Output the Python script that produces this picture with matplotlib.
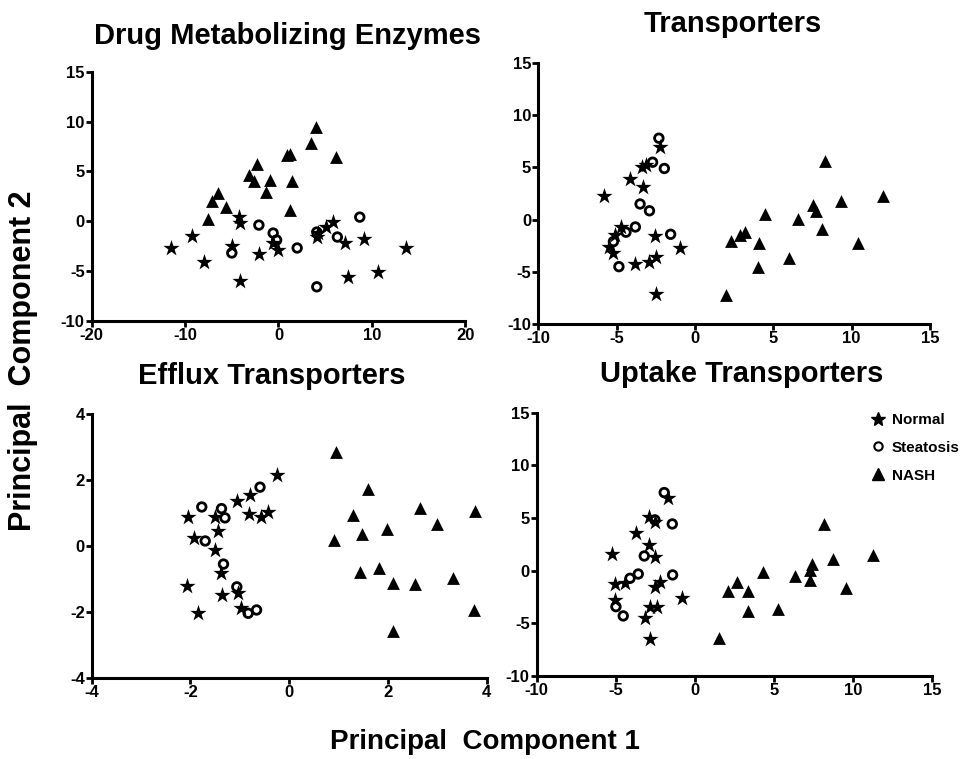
import matplotlib
matplotlib.use("Agg")
import matplotlib.pyplot as plt
from matplotlib.lines import Line2D

plt.rcParams['font.family'] = ['Liberation Sans', 'DejaVu Sans']
plt.rcParams['font.weight'] = 'bold'
plt.rcParams['axes.unicode_minus'] = False

# Drug Metabolizing Enzymes
dme_normal_x = [-11.5, -9.3, -8.0, -4.2, -4.1, -5.0, -4.1, -2.1, -0.6, 0.0, 4.1, 4.2, 5.1, 5.85, 7.1, 7.45, 9.2, 10.7, 13.6]
dme_normal_y = [-2.7, -1.5, -4.1, 0.4, -0.2, -2.5, -6.0, -3.3, -2.2, -2.9, -1.6, -1.2, -0.6, -0.1, -2.2, -5.6, -1.8, -5.1, -2.7]
dme_steat_x = [-2.1, -0.57, -0.2, -5.0, 2.0, 4.1, 6.3, 8.7, 4.1]
dme_steat_y = [-0.4, -1.2, -1.9, -3.2, -2.7, -1.1, -1.6, 0.4, -6.6]
dme_nash_x = [4.0, 3.5, 6.2, 0.9, 1.2, -2.3, -3.2, -2.6, -0.93, 1.4, -1.35, 1.2, -6.5, -7.1, -5.6, -7.5]
dme_nash_y = [9.4, 7.8, 6.4, 6.6, 6.7, 5.7, 4.6, 4.05, 4.1, 4.05, 2.9, 1.1, 2.8, 2.05, 1.45, 0.17]

# Transporters
tr_normal_x = [-5.8, -4.15, -3.3, -3.4, -3.1, -2.2, -4.7, -5.1, -5.5, -5.2, -3.8, -2.9, -2.5, -2.55, -0.95, -2.5]
tr_normal_y = [2.25, 3.9, 3.1, 5.05, 5.2, 7.0, -0.7, -1.5, -2.6, -3.2, -4.2, -4.1, -3.6, -1.6, -2.7, -7.1]
tr_steat_x = [-2.3, -2.7, -1.95, -3.5, -2.9, -3.8, -4.4, -1.55, -5.2, -4.85]
tr_steat_y = [7.8, 5.5, 4.9, 1.5, 0.85, -0.7, -1.2, -1.4, -2.1, -4.5]
tr_nash_x = [8.3, 12.0, 9.3, 7.55, 7.7, 4.5, 6.6, 8.1, 10.4, 3.2, 2.9, 2.3, 4.1, 4.0, 6.0, 2.0]
tr_nash_y = [5.6, 2.3, 1.8, 1.4, 0.85, 0.5, 0.04, -0.9, -2.2, -1.2, -1.5, -2.0, -2.2, -4.5, -3.7, -7.2]

# Efflux Transporters
ef_normal_x = [-0.24, -0.79, -1.06, -0.81, -0.56, -0.42, -1.5, -2.04, -1.45, -1.92, -1.5, -1.39, -2.06, -1.37, -1.04, -0.97, -1.85]
ef_normal_y = [2.17, 1.54, 1.36, 0.99, 0.89, 1.04, 0.89, 0.89, 0.45, 0.25, -0.12, -0.82, -1.2, -1.48, -1.41, -1.88, -2.03]
ef_steat_x = [-0.59, -1.77, -1.37, -1.3, -1.7, -1.33, -1.06, -0.83, -0.66]
ef_steat_y = [1.79, 1.19, 1.14, 0.86, 0.16, -0.54, -1.23, -2.03, -1.93]
ef_nash_x = [0.94, 1.59, 2.65, 3.77, 1.29, 3.0, 1.99, 1.47, 0.9, 1.44, 1.82, 2.11, 2.55, 3.31, 3.74, 2.11]
ef_nash_y = [2.85, 1.74, 1.17, 1.07, 0.94, 0.66, 0.53, 0.38, 0.18, -0.77, -0.67, -1.1, -1.13, -0.95, -1.93, -2.57]

# Uptake Transporters
up_normal_x = [-1.68, -2.88, -2.53, -3.73, -2.9, -2.53, -5.26, -2.21, -2.53, -4.42, -5.05, -5.05, -2.84, -2.42, -3.16, -2.84, -0.84]
up_normal_y = [6.93, 5.13, 4.65, 3.54, 2.44, 1.27, 1.58, -1.04, -1.52, -1.2, -1.27, -2.78, -3.42, -3.48, -4.53, -6.52, -2.56]
up_steat_x = [-1.94, -2.53, -1.43, -3.2, -1.41, -3.58, -4.1, -4.99, -4.53]
up_steat_y = [7.41, 4.81, 4.43, 1.39, -0.41, -0.32, -0.73, -3.42, -4.3]
up_nash_x = [8.17, 11.26, 8.74, 7.41, 7.26, 7.3, 6.32, 4.32, 2.67, 2.06, 3.37, 9.54, 3.37, 5.22, 1.52]
up_nash_y = [4.43, 1.49, 1.08, 0.63, 0.06, -0.89, -0.47, -0.16, -1.11, -1.93, -1.93, -1.68, -3.83, -3.67, -6.36]

W, H = 968.0, 759.0

# title, axes rect, xlim, xticks, ylim, yticks, data, title centre (pixels)
panels = [
    ("Drug Metabolizing Enzymes", [0.0947, 0.5775, 0.386, 0.328], (-20, 20), [-20, -10, 0, 10, 20], (-10, 15), [-10, -5, 0, 5, 10, 15],
     (dme_normal_x, dme_normal_y), (dme_steat_x, dme_steat_y), (dme_nash_x, dme_nash_y), (287, 36)),
    ("Transporters", [0.556, 0.573, 0.4047, 0.344], (-10, 15), [-10, -5, 0, 5, 10, 15], (-10, 15), [-10, -5, 0, 5, 10, 15],
     (tr_normal_x, tr_normal_y), (tr_steat_x, tr_steat_y), (tr_nash_x, tr_nash_y), (733, 24)),
    ("Efflux Transporters", [0.0947, 0.1063, 0.408, 0.348], (-4, 4), [-4, -2, 0, 2, 4], (-4, 4), [-4, -2, 0, 2, 4],
     (ef_normal_x, ef_normal_y), (ef_steat_x, ef_steat_y), (ef_nash_x, ef_nash_y), (272, 376)),
    ("Uptake Transporters", [0.5544, 0.1094, 0.4087, 0.347], (-10, 15), [-10, -5, 0, 5, 10, 15], (-10, 15), [-10, -5, 0, 5, 10, 15],
     (up_normal_x, up_normal_y), (up_steat_x, up_steat_y), (up_nash_x, up_nash_y), (742, 374)),
]

fig = plt.figure(figsize=(9.68, 7.59), dpi=100)

for title, rect, xlim, xticks, ylim, yticks, normal, steat, nash, tpos in panels:
    ax = fig.add_axes(rect)
    ax.scatter(normal[0], normal[1], marker='*', s=150, color='black', linewidths=0, zorder=3)
    ax.scatter(steat[0], steat[1], marker='o', s=38, facecolors='none', edgecolors='black', linewidths=2.0, zorder=3)
    ax.scatter(nash[0], nash[1], marker='^', s=85, color='black', linewidths=0, zorder=3)
    ax.set_xlim(xlim)
    ax.set_ylim(ylim)
    ax.set_xticks(xticks)
    ax.set_yticks(yticks)
    for s in ['top', 'right']:
        ax.spines[s].set_visible(False)
    for s in ['left', 'bottom']:
        ax.spines[s].set_linewidth(2.2)
    ax.tick_params(direction='out', length=4, width=2, labelsize=12, pad=1)
    for lab in ax.get_xticklabels() + ax.get_yticklabels():
        lab.set_fontweight('bold')
    fig.text(tpos[0] / W, 1 - tpos[1] / H, title, ha='center', va='center', fontsize=21, fontweight='bold')

# legend in last panel
handles = [
    Line2D([], [], marker='*', linestyle='none', color='black', markersize=10),
    Line2D([], [], marker='o', linestyle='none', markerfacecolor='none', markeredgecolor='black', markersize=6, markeredgewidth=1.5),
    Line2D([], [], marker='^', linestyle='none', color='black', markersize=8),
]
fig.legend(handles, ['Normal', 'Steatosis', 'NASH'], loc='upper left', bbox_to_anchor=(869 / W, 1 - 413 / H),
           frameon=False, prop={'weight': 'bold', 'size': 11}, handletextpad=0.3, labelspacing=0.9,
           handlelength=1.2, borderpad=0, borderaxespad=0)

fig.text(485 / W, 1 - 742 / H, "Principal  Component 1", ha='center', va='center', fontsize=20, fontweight='bold')
fig.text(23 / W, 1 - 361 / H, "Principal  Component 2", ha='center', va='center', rotation=90, fontsize=22, fontweight='bold')

fig.savefig("out.png", dpi=100)
